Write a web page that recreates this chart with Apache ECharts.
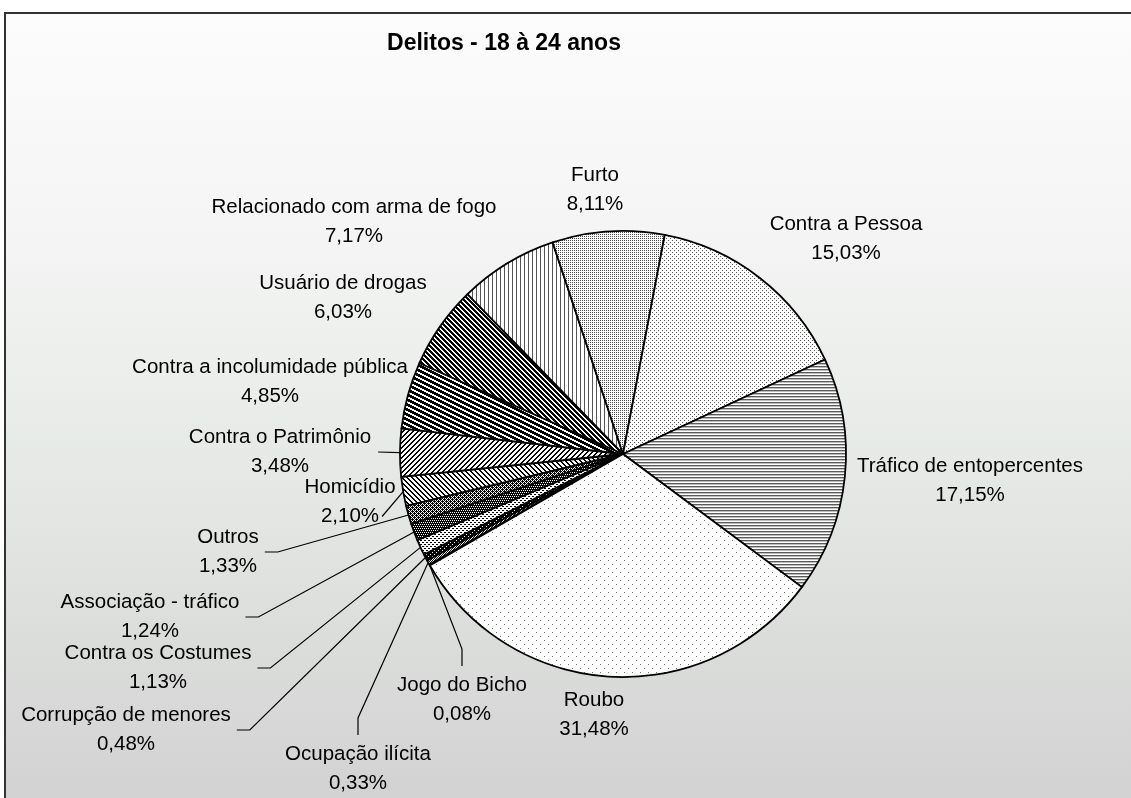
<!DOCTYPE html>
<html>
<head>
<meta charset="utf-8">
<title>Delitos - 18 à 24 anos</title>
<script src="https://cdn.jsdelivr.net/npm/echarts@6/dist/echarts.min.js"></script>
<style>
  html, body { margin: 0; padding: 0; background: #ffffff; }
  #chart { width: 1131px; height: 798px; }
</style>
</head>
<body>
<div id="chart"></div>
<script>
// Offence categories, in the order the slices are laid out (ascending share)
const categories = [
  'Jogo do Bicho',
  'Ocupação ilícita',
  'Corrupção de menores',
  'Contra os Costumes',
  'Associação - tráfico',
  'Outros',
  'Homicídio',
  'Contra o Patrimônio',
  'Contra a incolumidade pública',
  'Usuário de drogas',
  'Relacionado com arma de fogo',
  'Furto',
  'Contra a Pessoa',
  'Tráfico de entopercentes',
  'Roubo'
];

// Share of each offence, in percent
const percentages = [0.08, 0.33, 0.48, 1.13, 1.24, 1.33, 2.10, 3.48, 4.85, 6.03, 7.17, 8.11, 15.03, 17.15, 31.48];

const chartTitle = 'Delitos - 18 à 24 anos';

// ---------- layout & style ----------
const LABEL_FONT = 'Liberation Sans, Arial, sans-serif';
const LABEL_SIZE = 20.5;
const LINE_H = 29;

// centre of each two-line label block
const LABEL_AT = [
  [462, 700], [358, 769], [126, 730], [158, 668], [150, 617], [228, 552],
  [350, 502], [280, 452], [270, 382], [343, 298], [354, 222], [595, 190],
  [846, 239], [970, 481], [594, 715]
];
// how the leader line meets the label (null = no leader line)
const LEADER = ['down', 'down', 'left', 'left', 'left', 'left', 'pct', 'straight',
  null, null, null, null, null, null, null];

function fmtPct(v) { return v.toFixed(2).replace('.', ',') + '%'; }

const measureCtx = document.createElement('canvas').getContext('2d');
function textWidth(str) {
  measureCtx.font = LABEL_SIZE + 'px ' + LABEL_FONT;
  return measureCtx.measureText(str).width;
}

// ---------- monochrome fill patterns ----------
function grid(rows, ink, paper) {
  const h = rows.length, w = rows[0].length;
  const c = document.createElement('canvas');
  c.width = w; c.height = h;
  const ctx = c.getContext('2d');
  ctx.fillStyle = paper; ctx.fillRect(0, 0, w, h);
  for (let y = 0; y < h; y++) for (let x = 0; x < w; x++) {
    const ch = rows[y][x];
    if (ch === '#') { ctx.fillStyle = ink; ctx.fillRect(x, y, 1, 1); }
    else if (ch === '+') { ctx.fillStyle = '#bdbdbd'; ctx.fillRect(x, y, 1, 1); }
  }
  return { image: c, repeat: 'repeat' };
}
function diagonal(w, h, thick, rising, ink) {
  const rows = [];
  for (let y = 0; y < h; y++) rows.push(new Array(w).fill('.'));
  for (let x = 0; x < w; x++) {
    const y0 = Math.floor(x * h / w);
    for (let t = 0; t < thick; t++) {
      let y = (y0 + t) % h;
      if (rising) y = (h - 1 - y + h) % h;
      rows[y][x] = '#';
    }
  }
  return grid(rows.map(r => r.join('')), ink, '#ffffff');
}

const fills = [
  grid(['#'], '#000000', '#ffffff'),                                   // Jogo do Bicho
  grid(['#.', '.#'], '#000000', '#ffffff'),                            // Ocupação ilícita
  grid(['.###', '####', '##.#', '####'], '#000000', '#ffffff'),        // Corrupção de menores
  grid(['##..', '....', '..##', '....'], '#000000', '#ffffff'),        // Contra os Costumes
  grid(['.#.#', '####', '#.#.', '####'], '#000000', '#ffffff'),        // Associação - tráfico
  grid(['#.#.', '.###', '#.#.', '##.#'], '#000000', '#ffffff'),        // Outros
  diagonal(5, 5, 2, false, '#000000'),                                 // Homicídio
  diagonal(5, 5, 2, true, '#000000'),                                  // Contra o Patrimônio
  diagonal(10, 5, 3, false, '#000000'),                                // Contra a incolumidade pública
  diagonal(5, 5, 3, false, '#000000'),                                 // Usuário de drogas
  grid(['#...'], '#555555', '#ffffff'),                                // Relacionado com arma de fogo
  grid(['#.', '..'], '#4a4a4a', '#ffffff'),                            // Furto
  grid(['#...', '....', '..#.', '....'], '#5a5a5a', '#ffffff'),        // Contra a Pessoa
  grid(['#', '+', '.'], '#5a5a5a', '#ffffff'),                         // Tráfico de entopercentes
  grid(['#.......', '........', '........', '........',
        '....#...', '........', '........', '........'], '#707070', '#ffffff') // Roubo
];

const seriesData = categories.map((name, i) => ({
  name: name,
  value: percentages[i],
  itemStyle: { color: fills[i] },
  labelLine: { show: LEADER[i] !== null }
}));

const chart = echarts.init(document.getElementById('chart'), null, { renderer: 'canvas' });

chart.setOption({
  backgroundColor: '#ffffff',
  animation: false,
  graphic: [
    {
      type: 'rect',
      z: -10,
      silent: true,
      shape: { x: 5, y: 13, width: 1300, height: 900 },
      style: {
        fill: new echarts.graphic.LinearGradient(0, 13, 0, 798, [
          { offset: 0, color: '#fcfcfc' },
          { offset: 0.3, color: '#f3f4f3' },
          { offset: 0.55, color: '#e7ebe7' },
          { offset: 0.8, color: '#dbdddb' },
          { offset: 1, color: '#d2d2d2' }
        ], true),
        stroke: '#333333',
        lineWidth: 2
      }
    },
    {
      type: 'text',
      z: 10,
      silent: true,
      style: {
        text: chartTitle,
        x: 504,
        y: 44,
        align: 'center',
        verticalAlign: 'middle',
        font: 'bold 23px "Liberation Sans", Arial, sans-serif',
        fill: '#000000'
      }
    }
  ],
  series: [{
    type: 'pie',
    center: [623, 454],
    radius: 223,
    startAngle: 210,
    clockwise: true,
    avoidLabelOverlap: false,
    emphasis: { disabled: true },
    itemStyle: { borderColor: '#000000', borderWidth: 1.8 },
    label: {
      show: true,
      position: 'outside',
      color: '#000000',
      fontFamily: LABEL_FONT,
      fontSize: LABEL_SIZE,
      lineHeight: LINE_H,
      align: 'center',
      formatter: p => p.name + '\n' + fmtPct(p.value)
    },
    labelLine: {
      length: 10,
      length2: 10,
      lineStyle: { color: '#000000', width: 1.2 }
    },
    labelLayout: function (params) {
      const i = params.dataIndex;
      const at = LABEL_AT[i];
      const w = params.labelRect.width;
      const h = params.labelRect.height;
      const out = { x: at[0], y: at[1], align: 'center', verticalAlign: 'middle' };
      const kind = LEADER[i];
      if (kind && params.labelLinePoints) {
        const a = params.labelLinePoints[0];
        const right = at[0] + w / 2;
        const top = at[1] - h / 2;
        let pts;
        if (kind === 'down') {
          pts = [a, [at[0], top - 22], [at[0], top - 5]];
        } else if (kind === 'left') {
          pts = [a, [right + 19, at[1]], [right + 6, at[1]]];
        } else if (kind === 'pct') {
          const pw = textWidth(fmtPct(percentages[i]));
          pts = [a, [at[0] + pw / 2 + 3, at[1] + h / 4]];
        } else {
          pts = [a, [right + 7, at[1]]];
        }
        out.labelLinePoints = pts;
      }
      return out;
    },
    data: seriesData
  }]
});
</script>
</body>
</html>
